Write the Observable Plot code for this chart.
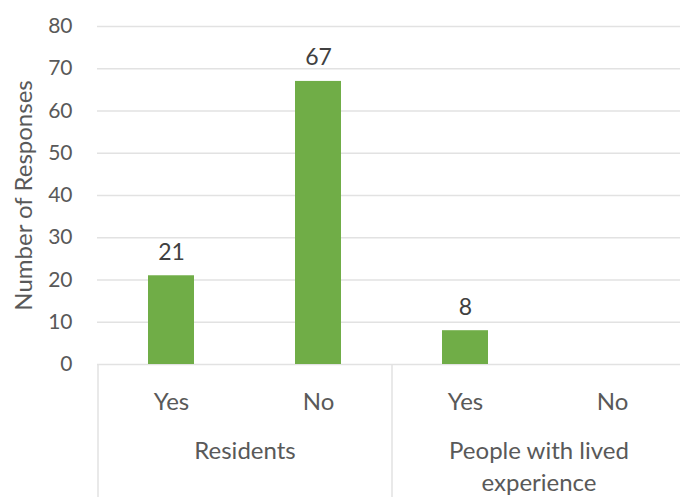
<!DOCTYPE html>
<html>
<head>
<meta charset="utf-8">
<script src="https://cdn.jsdelivr.net/npm/d3@7"></script>
<script src="https://cdn.jsdelivr.net/npm/@observablehq/plot@0.6"></script>
<style>
  html, body { margin: 0; padding: 0; background: #fff; overflow: hidden; }
</style>
</head>
<body>
<div id="chart"></div>
<script>
// ---- data ----
const groups = ["Residents", "Residents", "People with lived experience", "People with lived experience"];
const answers = ["Yes", "No", "Yes", "No"];
const values = [21, 67, 8, null];
const yTicks = [0, 10, 20, 30, 40, 50, 60, 70, 80];
const groupNames = ["Residents", "People with lived experience"];
const groupLabels = ["Residents", "People with lived\nexperience"];
const yTitle = "Number of Responses";

// ---- layout ----
const W = 680, H = 497;
const marginTop = 26, marginBottom = 133, marginLeft = 97;
const xRange = [97, 685];
const keys = groups.map((g, i) => g + "|" + answers[i]);
const step = (xRange[1] - xRange[0]) / keys.length;
const data = keys.map((k, i) => ({key: k, group: groups[i], answer: answers[i], value: values[i]}));
const groupData = groupNames.map((g, i) => ({key: keys[groups.indexOf(g)], label: groupLabels[i]}));

const font = "Lato, 'Open Sans', sans-serif";
const textColor = "#595959";
const gridColor = "#e2e2e2";

const chart = Plot.plot({
  width: W,
  height: H,
  marginTop,
  marginBottom,
  marginLeft,
  marginRight: 0,
  style: {fontFamily: font, fontSize: "24px", color: textColor, background: "#fff", overflow: "visible"},
  x: {domain: keys, range: xRange, paddingInner: 0.69, paddingOuter: 0.345, axis: null},
  y: {domain: [0, 80], axis: null},
  marks: [
    Plot.ruleY(yTicks, {y: d => d, stroke: gridColor, strokeWidth: 1.5}),
    Plot.axisY({
      ticks: yTicks, tickSize: 0, tickPadding: 25, fill: textColor, fontSize: 21, label: null
    }),
    Plot.text([yTitle], {
      frameAnchor: "left", textAnchor: "middle", dx: -73, rotate: -90, text: d => d,
      fontSize: 24, fill: textColor
    }),
    Plot.barY(data.filter(d => d.value != null), {x: "key", y: "value", fill: "#70AD47"}),
    Plot.text(data.filter(d => d.value != null), {
      x: "key", y: "value", text: d => String(d.value),
      lineAnchor: "bottom", dy: -16, fill: "#404040", fontSize: 23
    }),
    Plot.axisX({
      tickSize: 0, tickPadding: 28, fill: textColor,
      tickFormat: k => k.split("|")[1], label: null
    }),
    Plot.text(groupData, {
      x: "key", dx: step / 2, frameAnchor: "bottom", dy: 72,
      text: "label", lineAnchor: "top", lineHeight: 1.33, fill: textColor
    }),
    Plot.ruleX(groupData, {
      x: "key", dx: -step / 2, y1: 0, y2: 0, insetBottom: -marginBottom,
      stroke: gridColor, strokeWidth: 1.5
    })
  ]
});
document.getElementById("chart").append(chart);
</script>
</body>
</html>
